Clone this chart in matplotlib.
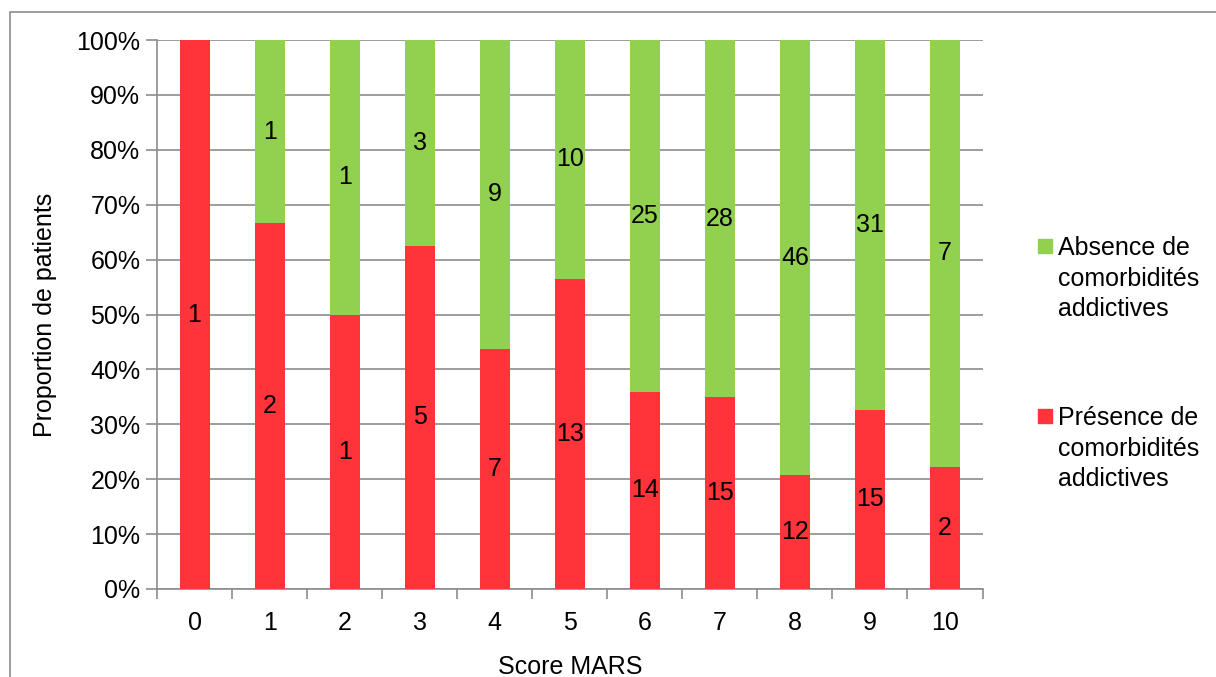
import numpy as np
import matplotlib.pyplot as plt
from matplotlib.patches import Rectangle

scores = [0, 1, 2, 3, 4, 5, 6, 7, 8, 9, 10]
presence = [1, 2, 1, 5, 7, 13, 14, 15, 12, 15, 2]
absence = [0, 1, 1, 3, 9, 10, 25, 28, 46, 31, 7]
y_ticks = [0, 10, 20, 30, 40, 50, 60, 70, 80, 90, 100]
legend_labels = [["Absence de", "comorbidités", "addictives"],
                 ["Présence de", "comorbidités", "addictives"]]

red = "#FF333A"
green = "#92D050"
grey = "#8C8C8C"
fs = 18
W, H = 1216, 677

plt.rcParams["font.family"] = ["Liberation Sans", "DejaVu Sans"]

pres = np.array(presence, dtype=float)
abse = np.array(absence, dtype=float)
total = pres + abse
p_pct = pres / total * 100
a_pct = abse / total * 100

fig = plt.figure(figsize=(W / 100, H / 100), dpi=100)
ax = fig.add_axes([157 / W, 1 - 589 / H, (982.5 - 157) / W, (589 - 40) / H])

# outer frame like the office chart (right and bottom edges fall outside the image)
fig.patches.append(Rectangle((10 / W, -0.05), 1.0, 1.05 - 12 / H,
                             transform=fig.transFigure, fill=False,
                             edgecolor=grey, linewidth=1.2))

x = np.arange(len(scores))
ax.bar(x, p_pct, width=0.4, color=red, zorder=3)
ax.bar(x, a_pct, width=0.4, bottom=p_pct, color=green, zorder=3)

# counts in the middle of each segment
for i in range(len(scores)):
    if presence[i] > 0:
        ax.text(x[i], p_pct[i] / 2, str(presence[i]), ha="center", va="center",
                fontsize=fs, zorder=4)
    if absence[i] > 0:
        ax.text(x[i], p_pct[i] + a_pct[i] / 2, str(absence[i]), ha="center",
                va="center", fontsize=fs, zorder=4)

ax.set_xlim(-0.5, len(scores) - 0.5)
ax.set_ylim(0, 100)
ax.set_yticks(y_ticks)
ax.set_yticklabels([f"{v}%" for v in y_ticks], fontsize=fs)
ax.set_xticks(x)
ax.set_xticklabels([str(s) for s in scores], fontsize=fs)
ax.tick_params(axis="x", length=0, pad=16)
ax.tick_params(axis="y", length=8, color=grey, width=1.2, pad=4)

# category boundary ticks below the axis
ax.set_xticks(np.arange(-0.5, len(scores), 1), minor=True)
ax.tick_params(axis="x", which="minor", length=7, color=grey, width=1.2)

ax.grid(axis="y", color=grey, linewidth=1.2, zorder=0)
for s in ["top", "right"]:
    ax.spines[s].set_visible(False)
for s in ["left", "bottom"]:
    ax.spines[s].set_color(grey)
    ax.spines[s].set_linewidth(1.2)

ax.set_xlabel("Score MARS", fontsize=fs, labelpad=14)
ax.set_ylabel("Proportion de patients", fontsize=fs, labelpad=14)

# legend drawn by hand: square aligned with the first line of each entry
for k, (lines, col) in enumerate(zip(legend_labels, [green, red])):
    top = 239 + k * 170
    fig.patches.append(Rectangle((1038 / W, 1 - (top + 14) / H), 14 / W, 14 / H,
                                 transform=fig.transFigure, color=col))
    for j, line in enumerate(lines):
        fig.text(1058 / W, 1 - (top + 16 + j * 30.5) / H, line, fontsize=fs,
                 ha="left", va="baseline")

fig.savefig("out.png", dpi=100)
